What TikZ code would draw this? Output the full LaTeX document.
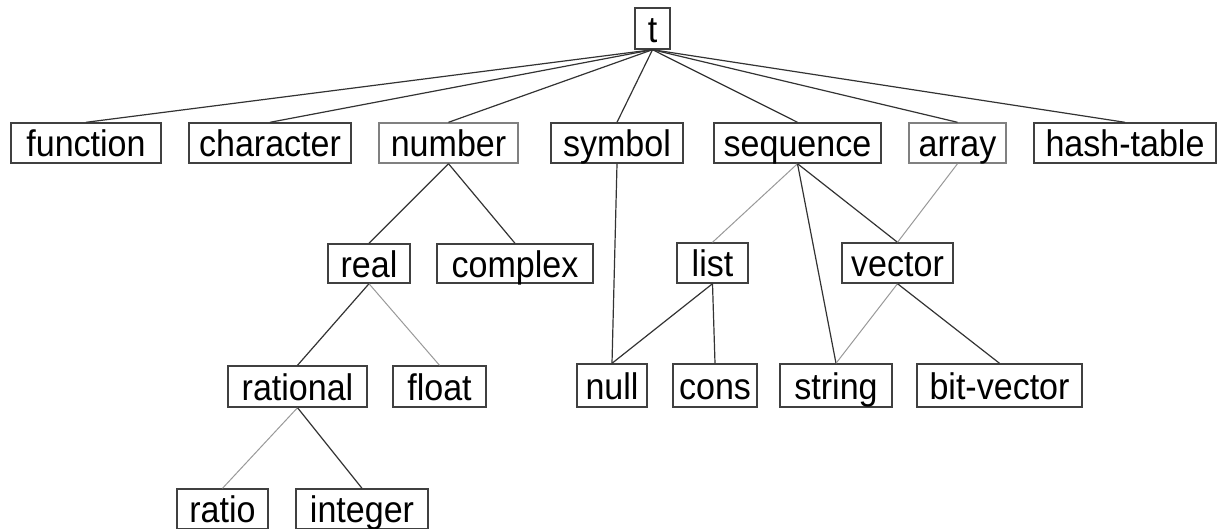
\documentclass[tikz,border=0pt]{standalone}
\usepackage{fontspec}
\setmainfont[FakeStretch=0.92]{Liberation Sans}
\begin{document}
\begin{tikzpicture}[x=1pt,y=-1pt,
  box/.style={draw=black!75, line width=1.4pt, fill=white, inner sep=0pt,
    font=\fontsize{37}{42}\selectfont, text height=27pt, text depth=0pt},
  lbox/.style={box, draw=black!50},
  edge/.style={draw=black!80, line width=1.2pt},
  gedge/.style={draw=black!40, line width=1.0pt}]
\useasboundingbox (0,0) rectangle (1220,528);
% row 0
\node[box, minimum width=35pt, minimum height=41pt] (t) at (652.5,28.5) {t};
% row 1
\node[box, minimum width=150pt, minimum height=40pt] (function) at (86,143) {function};
\node[box, minimum width=162pt, minimum height=40pt] (character) at (270,143) {character};
\node[lbox, minimum width=139pt, minimum height=40pt] (number) at (448.5,143) {number};
\node[box, minimum width=132pt, minimum height=40pt] (symbol) at (617,143) {symbol};
\node[box, minimum width=167pt, minimum height=40pt] (sequence) at (797.5,143) {sequence};
\node[lbox, minimum width=97pt, minimum height=40pt] (array) at (957.5,143) {array};
\node[box, minimum width=182pt, minimum height=40pt] (hashtable) at (1125,143) {hash-table};
% row 2
\node[box, minimum width=82pt, minimum height=39pt] (real) at (369,263.5) {real};
\node[box, minimum width=156pt, minimum height=39pt] (complex) at (515,263.5) {complex};
\node[box, minimum width=71pt, minimum height=40pt] (list) at (712.5,263) {list};
\node[box, minimum width=111pt, minimum height=40pt] (vector) at (897.5,263) {vector};
% row 3
\node[box, minimum width=139pt, minimum height=41pt] (rational) at (297.5,386.5) {rational};
\node[box, minimum width=93pt, minimum height=41pt] (float) at (439.5,386.5) {float};
\node[box, minimum width=70pt, minimum height=43pt] (null) at (612,385.5) {null};
\node[box, minimum width=84pt, minimum height=43pt] (cons) at (715,385.5) {cons};
\node[box, minimum width=112pt, minimum height=43pt] (string) at (836,385.5) {string};
\node[box, minimum width=165pt, minimum height=43pt] (bitvector) at (999.5,385.5) {bit-vector};
% row 4
\node[box, minimum width=91pt, minimum height=40pt] (ratio) at (222.5,509) {ratio};
\node[box, minimum width=132pt, minimum height=40pt] (integer) at (362,509) {integer};
% edges
\foreach \c in {function,character,number,symbol,sequence,array,hashtable}
  \draw[edge] (t.south) -- (\c.north);
\draw[edge] (number.south) -- (real.north);
\draw[edge] (number.south) -- (complex.north);
\draw[edge] (symbol.south) -- (null.north);
\draw[gedge] (sequence.south) -- (list.north);
\draw[edge] (sequence.south) -- (string.north);
\draw[edge] (sequence.south) -- (vector.north);
\draw[gedge] (array.south) -- (vector.north);
\draw[edge] (list.south) -- (null.north);
\draw[edge] (list.south) -- (cons.north);
\draw[gedge] (vector.south) -- (string.north);
\draw[edge] (vector.south) -- (bitvector.north);
\draw[edge] (real.south) -- (rational.north);
\draw[gedge] (real.south) -- (float.north);
\draw[gedge] (rational.south) -- (ratio.north);
\draw[edge] (rational.south) -- (integer.north);
\end{tikzpicture}
\end{document}
